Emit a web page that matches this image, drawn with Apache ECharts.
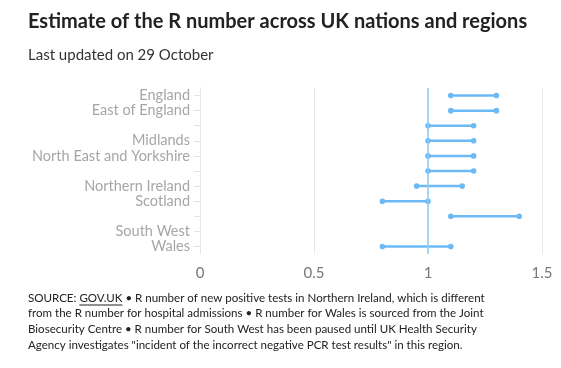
<!DOCTYPE html>
<html><head><meta charset="utf-8">
<script src="https://cdn.jsdelivr.net/npm/echarts@6/dist/echarts.min.js"></script>
<style>html,body{margin:0;padding:0;background:#fff}#c{width:561px;height:368px}</style>
</head><body><div id="c"></div>
<script>
const categories = ["England","East of England","London","Midlands","North East and Yorkshire","North West","Northern Ireland","Scotland","South East","South West","Wales"];
const shownLabels = ["England","East of England","Midlands","North East and Yorkshire","Northern Ireland","Scotland","South West","Wales"];
const lowValues  = [1.1, 1.1, 1.0, 1.0, 1.0, 1.0, 0.95, 0.8, 1.1, null, 0.8];
const highValues = [1.3, 1.3, 1.2, 1.2, 1.2, 1.2, 1.15, 1.0, 1.4, null, 1.1];
const xTicks = [0, 0.5, 1, 1.5];

const FONT = 'Lato';
const NOTE_SIZE = 11.55;
const data = categories.map((c,i)=>[i, lowValues[i], highValues[i]]).filter(d=>d[1]!=null);
const chart = echarts.init(document.getElementById('c'));
const BLUE = '#6cbaf5';
const ctx = document.createElement('canvas').getContext('2d');
ctx.font = NOTE_SIZE + 'px ' + FONT;
const ux = 28 + ctx.measureText('SOURCE: ').width;
const uw = ctx.measureText('GOV.UK').width;
chart.setOption({
  animation:false,
  textStyle:{fontFamily:FONT},
  title:[
    {text:'Estimate of the R number across UK nations and regions', left:28, top:12, padding:0,
     textStyle:{fontFamily:FONT, fontSize:20, fontWeight:'bold', color:'#222'}},
    {text:'Last updated on 29 October', left:28, top:48, padding:0,
     textStyle:{fontFamily:FONT, fontSize:15, fontWeight:'normal', color:'#333'}}
  ],
  grid:{left:200, right:19, top:88, height:166},
  xAxis:{type:'value', min:0, max:1.5, interval:0.5, position:'bottom',
    axisLine:{show:false}, axisTick:{show:false},
    splitLine:{lineStyle:{color:'#e9e9e9', width:1}},
    axisLabel:{fontFamily:FONT, fontSize:15, color:'#777', margin:12,
      formatter:v=> xTicks.includes(v) ? String(v) : ''}},
  yAxis:{type:'category', data:categories, inverse:true,
    axisLine:{show:true, lineStyle:{color:'#e6e6e6'}},
    axisTick:{show:true, length:6, lineStyle:{color:'#e3e3e3'}, alignWithLabel:true},
    axisLabel:{fontFamily:FONT, fontSize:14.5, color:'#a6a6a6', margin:10, interval:0,
      formatter:v=> shownLabels.includes(v) ? v : ''}},
  series:[{
    type:'custom',
    data:data,
    encode:{x:[1,2], y:0},
    renderItem:(params, api)=>{
      const y = api.value(0);
      const p1 = api.coord([api.value(1), y]);
      const p2 = api.coord([api.value(2), y]);
      return {type:'group', children:[
        {type:'line', shape:{x1:p1[0],y1:p1[1],x2:p2[0],y2:p2[1]}, style:{stroke:BLUE, lineWidth:2.5}},
        {type:'circle', shape:{cx:p1[0],cy:p1[1],r:2.8}, style:{fill:BLUE}},
        {type:'circle', shape:{cx:p2[0],cy:p2[1],r:2.8}, style:{fill:BLUE}}
      ]};
    },
    markLine:{silent:true, symbol:'none', label:{show:false},
      lineStyle:{color:'#8ccaf7', width:1.5, type:'solid'},
      data:[{xAxis:1}]}
  }],
  graphic:[
    {type:'text', left:28, top:290, style:{
      text:'SOURCE: GOV.UK • R number of new positive tests in Northern Ireland, which is different\nfrom the R number for hospital admissions • R number for Wales is sourced from the Joint\nBiosecurity Centre • R number for South West has been paused until UK Health Security\nAgency investigates "incident of the incorrect negative PCR test results" in this region.',
      fontFamily:FONT, fontSize:NOTE_SIZE, lineHeight:15.7, fill:'#222'}},
    {type:'line', shape:{x1:ux, y1:305, x2:ux+uw, y2:305}, style:{stroke:'#222', lineWidth:1}}
  ]
});
</script></body></html>
